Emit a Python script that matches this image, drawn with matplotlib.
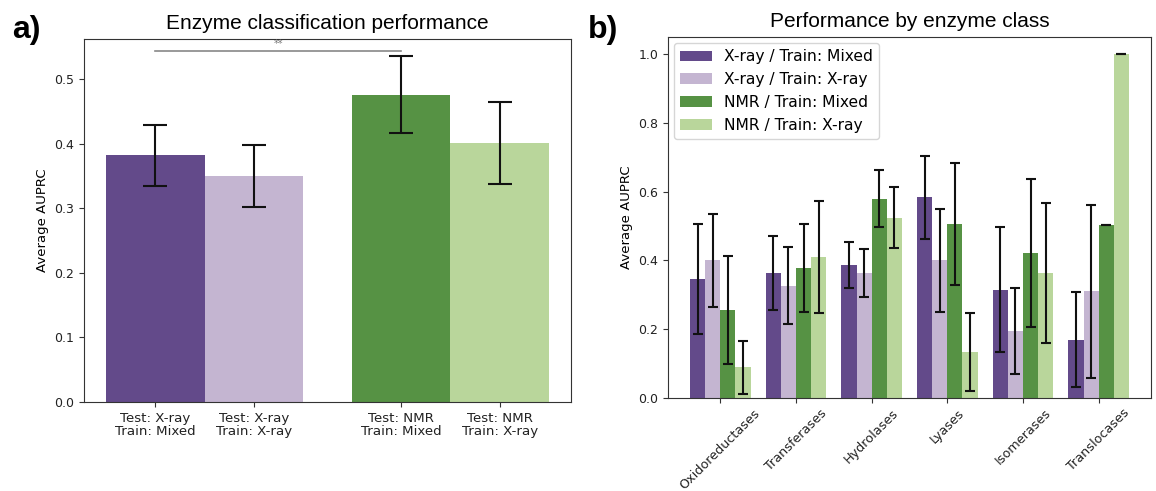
import numpy as np
import matplotlib
matplotlib.use("Agg")
import matplotlib.pyplot as plt

# panel a: overall performance
a_labels = ["Test: X-ray\nTrain: Mixed", "Test: X-ray\nTrain: X-ray",
            "Test: NMR\nTrain: Mixed", "Test: NMR\nTrain: X-ray"]
a_means = [0.382, 0.350, 0.476, 0.401]
a_errs = [0.047, 0.048, 0.059, 0.063]

# panel b: per enzyme class
classes = ["Oxidoreductases", "Transferases", "Hydrolases", "Lyases", "Isomerases", "Translocases"]
series_names = ["X-ray / Train: Mixed", "X-ray / Train: X-ray", "NMR / Train: Mixed", "NMR / Train: X-ray"]
xray_mixed = [0.347, 0.364, 0.387, 0.584, 0.315, 0.170]
xray_mixed_err = [0.160, 0.107, 0.066, 0.121, 0.182, 0.137]
xray_xray = [0.400, 0.327, 0.364, 0.400, 0.196, 0.310]
xray_xray_err = [0.136, 0.113, 0.070, 0.151, 0.125, 0.251]
nmr_mixed = [0.256, 0.378, 0.580, 0.507, 0.422, 0.504]
nmr_mixed_err = [0.156, 0.128, 0.083, 0.177, 0.215, 0.0]
nmr_xray = [0.089, 0.410, 0.524, 0.133, 0.364, 1.0]
nmr_xray_err = [0.078, 0.162, 0.089, 0.113, 0.203, 0.0]

colors = ["#634a8a", "#c4b5d1", "#569244", "#b9d69b"]
edge = "#333333"

plt.rcParams['font.family'] = ['DejaVu Sans']
plt.rcParams['axes.edgecolor'] = edge
plt.rcParams['xtick.color'] = edge
plt.rcParams['ytick.color'] = edge
plt.rcParams['xtick.labelcolor'] = '#222222'
plt.rcParams['ytick.labelcolor'] = '#222222'

fig = plt.figure(figsize=(11.56, 4.91), dpi=100)
ax1 = fig.add_axes([84/1156, 1 - 402/491, 487/1156, 363/491])
ax2 = fig.add_axes([668/1156, 1 - 398/491, 483/1156, 361/491])

# ---- panel a
xa = np.array([0, 1, 2.5, 3.5])
ax1.bar(xa, a_means, width=1.0, color=colors,
        yerr=a_errs, capsize=8.5, error_kw=dict(elinewidth=1.5, capthick=1.5, ecolor='#111111'))
ax1.set_ylim(0, 0.562)
ax1.set_xticks(xa)
ax1.set_xticklabels(a_labels, fontsize=9.6, linespacing=1.0)
ax1.tick_params(axis='y', labelsize=9)
ax1.set_ylabel("Average AUPRC", fontsize=9.5)
ax1.set_title("Enzyme classification performance", fontsize=15, family='Liberation Sans', pad=7)
# significance bar
ax1.plot([xa[0], xa[2]], [0.544, 0.544], color='#888888', lw=1.2)
ax1.text((xa[0] + xa[2]) / 2, 0.546, "**", ha='center', va='bottom', fontsize=7, color='#777777')

# ---- panel b
xb = np.arange(len(classes))
w = 0.2
series = [(xray_mixed, xray_mixed_err), (xray_xray, xray_xray_err),
          (nmr_mixed, nmr_mixed_err), (nmr_xray, nmr_xray_err)]
for i, (vals, errs) in enumerate(series):
    ax2.bar(xb + (i - 1.5) * w, vals, width=w, color=colors[i], label=series_names[i],
            yerr=errs, capsize=3.5, error_kw=dict(elinewidth=1.5, capthick=1.5, ecolor='#111111'))
ax2.set_xticks(xb)
ax2.set_xticklabels(classes, rotation=45, fontsize=9.2)
ax2.tick_params(axis='x', pad=2.5)
ax2.tick_params(axis='y', labelsize=9)
ax2.set_ylabel("Average AUPRC", fontsize=9.5)
ax2.set_title("Performance by enzyme class", fontsize=15, family='Liberation Sans', pad=7)
ax2.legend(loc='upper left', fontsize=11.2, borderaxespad=0.4)

fig.text(12/1156, 1 - 38/491, "a)", fontsize=23, fontweight='bold', family='Liberation Sans')
fig.text(588/1156, 1 - 38/491, "b)", fontsize=23, fontweight='bold', family='Liberation Sans')

fig.savefig("out.png", dpi=100)
